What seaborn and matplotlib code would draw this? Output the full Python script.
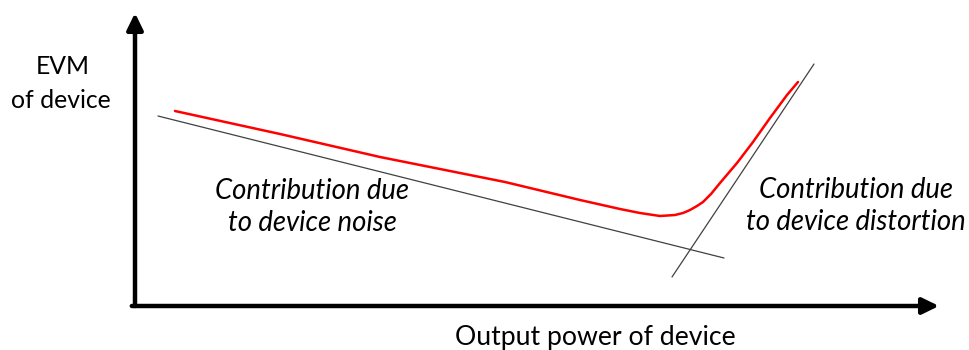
import matplotlib
matplotlib.use("Agg")
import matplotlib.pyplot as plt
import seaborn as sns
import pandas as pd

# Total EVM of the device versus output power (arbitrary units)
power = [40, 145, 245, 370, 445, 485, 505, 525, 540, 548, 555, 562, 568, 576, 585, 602, 618, 635, 652, 663]
evm = [195, 172, 149, 124, 106, 97, 93, 90, 91, 93, 96, 100, 104, 112, 123, 143, 164, 188, 211, 224]

# Asymptotes: noise-limited and distortion-limited contributions
noise_power = [23, 589]
noise_evm = [190, 48]
dist_power = [537, 679]
dist_evm = [29, 242]

sns.set_theme(style="white")
plt.rcParams["font.family"] = ["Lato", "DejaVu Sans"]

W, H = 969, 350
fig = plt.figure(figsize=(W / 100, H / 100), dpi=100)
x0, y0, x1, y1 = 135, 306, 939, 13
ax = fig.add_axes([x0 / W, (H - y0) / H, (x1 - x0) / W, (y0 - y1) / H])
ax.set_xlim(0, x1 - x0)
ax.set_ylim(0, y0 - y1)
ax.set_axis_off()

curve = pd.DataFrame({"power": power, "evm": evm})
noise = pd.DataFrame({"power": noise_power, "evm": noise_evm})
dist = pd.DataFrame({"power": dist_power, "evm": dist_evm})

sns.lineplot(data=noise, x="power", y="evm", color="#404040", lw=0.9, ax=ax, sort=False)
sns.lineplot(data=dist, x="power", y="evm", color="#404040", lw=0.9, ax=ax, sort=False)
sns.lineplot(data=curve, x="power", y="evm", color="#ff0000", lw=1.8, ax=ax, sort=False)

# Axis arrows
arrow = dict(arrowstyle="-|>,head_length=0.45,head_width=0.22", lw=3.2, color="black",
             mutation_scale=22, shrinkA=0, shrinkB=0)
ax.annotate("", xy=(1, 0), xytext=(-0.004, 0), xycoords="axes fraction", arrowprops=arrow)
ax.annotate("", xy=(0, 1), xytext=(0, 0), xycoords="axes fraction", arrowprops=arrow)

# Labels
fig.text(63 / W, 1 - 66 / H, "EVM", ha="center", va="center", fontsize=17.8, color="black")
fig.text(61 / W, 1 - 100 / H, "of device", ha="center", va="center", fontsize=17.8, color="black")
fig.text(595 / W, 1 - 338 / H, "Output power of device", ha="center", va="center",
         fontsize=19.2, color="black")
fig.text(312 / W, 1 - 207 / H, "Contribution due\nto device noise", ha="center", va="center",
         fontsize=19.8, style="italic", linespacing=1.25, color="black")
fig.text(856 / W, 1 - 206 / H, "Contribution due\nto device distortion", ha="center", va="center",
         fontsize=19.8, style="italic", linespacing=1.25, color="black")

fig.savefig("out.png", dpi=100, facecolor="white")
